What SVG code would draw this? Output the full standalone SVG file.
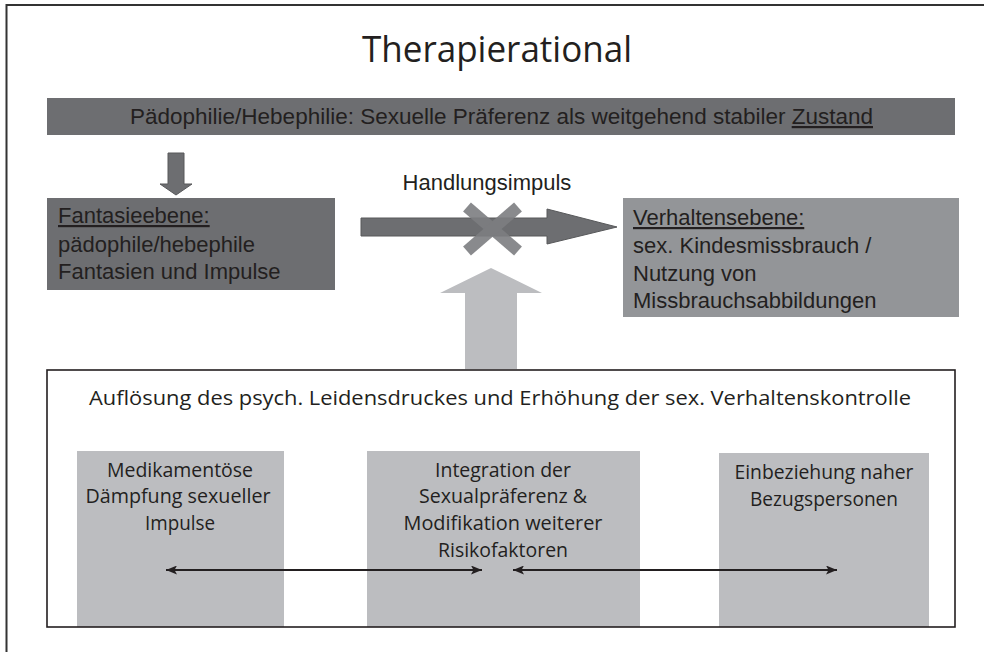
<svg xmlns="http://www.w3.org/2000/svg" width="984" height="652" viewBox="0 0 984 652">
<defs>
<style>
.arial{font-family:"Liberation Sans",Arial,sans-serif;font-size:22px;fill:#231f20}
.cal{font-family:"Open Sans","Noto Sans",sans-serif;fill:#231f20}
.box{font-size:19.5px;text-anchor:middle}
.dark{fill:#6d6e71}
.mid{fill:#939598}
.light{fill:#bcbdc0}
.conn{stroke:#231f20;stroke-width:2;fill:none}
</style>
<marker id="ah" viewBox="0 0 11 9" refX="11" refY="4.5" markerWidth="11" markerHeight="9" markerUnits="userSpaceOnUse" orient="auto-start-reverse">
<path d="M0,0 L11,4.5 L0,9 L2.5,4.5 Z" fill="#231f20"/>
</marker>
</defs>
<rect width="984" height="652" fill="#ffffff"/>
<g id="frame">
<path d="M6.5,652 V5 H984" fill="none" stroke="#333333" stroke-width="2"/>
</g>
<g id="title">
<text class="cal" x="497" y="62" font-size="37" text-anchor="middle" textLength="270" lengthAdjust="spacingAndGlyphs">Therapierational</text>
</g>
<g id="praeferenz">
<rect class="dark" x="47" y="98" width="908" height="37"/>
<text class="arial" x="130" y="124" textLength="743" lengthAdjust="spacingAndGlyphs">Pädophilie/Hebephilie: Sexuelle Präferenz als weitgehend stabiler <tspan text-decoration="underline">Zustand</tspan></text>
</g>
<g id="fantasieebene">
<rect class="dark" x="47" y="198" width="288" height="92"/>
<text class="arial" x="58" y="223"><tspan text-decoration="underline">Fantasieebene:</tspan></text>
<text class="arial" x="58" y="252">pädophile/hebephile</text>
<text class="arial" x="58" y="279">Fantasien und Impulse</text>
</g>
<g id="verhaltensebene">
<rect class="mid" x="623" y="198" width="336" height="119"/>
<text class="arial" x="633" y="225"><tspan text-decoration="underline">Verhaltensebene:</tspan></text>
<text class="arial" x="633" y="253">sex. Kindesmissbrauch /</text>
<text class="arial" x="633" y="281">Nutzung von</text>
<text class="arial" x="633" y="308">Missbrauchsabbildungen</text>
</g>
<g id="handlungsimpuls">
<text class="arial" x="487" y="190" text-anchor="middle">Handlungsimpuls</text>
</g>
<g id="therapie">
<rect x="47" y="370" width="908" height="257" fill="#ffffff"/>
<text class="cal" x="500" y="405" font-size="19.5" text-anchor="middle" textLength="822" lengthAdjust="spacingAndGlyphs">Auflösung des psych. Leidensdruckes und Erhöhung der sex. Verhaltenskontrolle</text>
</g>
<g id="medikamentoes">
<rect class="light" x="77" y="451" width="207" height="176"/>
<text class="cal box" x="180" y="477" textLength="146" lengthAdjust="spacingAndGlyphs">Medikamentöse</text>
<text class="cal box" x="178" y="503" textLength="185" lengthAdjust="spacingAndGlyphs">Dämpfung sexueller</text>
<text class="cal box" x="180" y="530" textLength="70" lengthAdjust="spacingAndGlyphs">Impulse</text>
</g>
<g id="integration">
<rect class="light" x="367" y="451" width="273" height="176"/>
<text class="cal box" x="503" y="477" textLength="136" lengthAdjust="spacingAndGlyphs">Integration der</text>
<text class="cal box" x="503" y="503" textLength="168" lengthAdjust="spacingAndGlyphs">Sexualpräferenz &amp;</text>
<text class="cal box" x="503" y="530" textLength="199" lengthAdjust="spacingAndGlyphs">Modifikation weiterer</text>
<text class="cal box" x="503" y="557" textLength="130" lengthAdjust="spacingAndGlyphs">Risikofaktoren</text>
</g>
<g id="bezugspersonen">
<rect class="light" x="719" y="453" width="210" height="174"/>
<text class="cal box" x="824" y="479" textLength="179" lengthAdjust="spacingAndGlyphs">Einbeziehung naher</text>
<text class="cal box" x="824" y="506" textLength="148" lengthAdjust="spacingAndGlyphs">Bezugspersonen</text>
</g>
<g id="therapie-border">
<rect x="47" y="370" width="908" height="257" fill="none" stroke="#231f20" stroke-width="1.6"/>
</g>
<g id="connectors">
<polygon points="168,153 184,153 184,184 192,184 176,195 160,184 168,184" fill="#6d6e71" stroke="#58595b" stroke-width="1"/>
<polygon points="361,218 547,218 547,209 617,227 547,244 547,236 361,236" fill="#6d6e71" stroke="#58595b" stroke-width="1"/>
<g id="cross" stroke="#7d7e81" stroke-width="12" opacity="0.9">
<line x1="467" y1="207" x2="518" y2="251"/>
<line x1="518" y1="207" x2="467" y2="251"/>
</g>
<polygon points="491,268 542,293 517,293 517,369 465,369 465,293 440,293" fill="#bcbdc0"/>
<line class="conn" x1="166" y1="570" x2="482" y2="570" marker-start="url(#ah)" marker-end="url(#ah)"/>
<line class="conn" x1="513" y1="570" x2="837" y2="570" marker-start="url(#ah)" marker-end="url(#ah)"/>
</g>
</svg>
